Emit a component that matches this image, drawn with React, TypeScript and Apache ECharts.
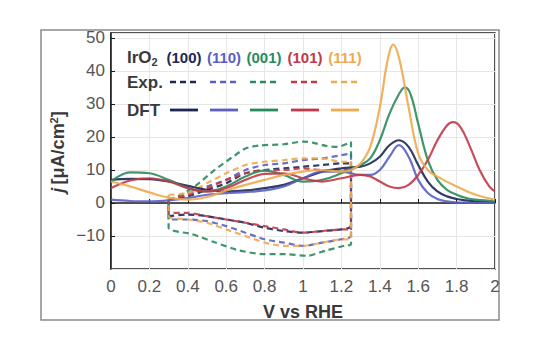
import React, { useEffect, useRef } from "react";
import * as echarts from "echarts";

// ---- Data ----
const xTicks = [0, 0.2, 0.4, 0.6, 0.8, 1, 1.2, 1.4, 1.6, 1.8, 2];
const yTicks = [-10, 0, 10, 20, 30, 40, 50];

const facets = ["(100)", "(110)", "(001)", "(101)", "(111)"];
const colors = ["#1c2756", "#5a5fc4", "#2b8a5c", "#c23a4a", "#eeaa4e"];

// DFT (solid) curves: [V, j]
const dft100 = [[0,7],[0.1,7.3],[0.2,7.2],[0.3,6.5],[0.4,5.2],[0.5,4],[0.6,3.5],[0.7,3.8],[0.8,4.5],[0.9,5.5],[1.0,7.5],[1.1,9.5],[1.2,10.5],[1.3,11],[1.35,12],[1.4,14],[1.45,17.5],[1.5,19],[1.55,17],[1.6,11.5],[1.65,6.5],[1.7,3.5],[1.75,2],[1.8,1.2],[1.85,0.8],[1.9,0.5],[2,0.3]];
const dft110 = [[0,1],[0.1,0.6],[0.2,0.5],[0.3,0.8],[0.4,1.5],[0.5,2.5],[0.6,3],[0.7,3.3],[0.8,3.8],[0.9,5],[1.0,7.5],[1.1,9.5],[1.2,9.5],[1.3,8.5],[1.35,8.5],[1.4,10],[1.45,14],[1.5,17.5],[1.55,14],[1.6,7],[1.65,3],[1.7,1.2],[1.75,0.5],[1.8,0.2],[1.85,0.1],[1.9,0],[2,0]];
const dft001 = [[0,6.5],[0.1,9.3],[0.2,9],[0.3,7],[0.4,4.5],[0.5,3.5],[0.6,5],[0.7,8],[0.8,9.8],[0.9,8.5],[1.0,6.5],[1.1,7],[1.2,9],[1.3,11.5],[1.35,13.5],[1.4,19],[1.45,27],[1.5,33],[1.53,35],[1.56,33],[1.6,24],[1.65,13],[1.7,7],[1.75,4],[1.8,2.5],[1.85,1.5],[1.9,1],[2,0.5]];
const dft101 = [[0,4.5],[0.1,6.8],[0.2,7.5],[0.3,6.5],[0.4,4.5],[0.5,3.5],[0.6,4.5],[0.7,7],[0.8,8.8],[0.9,9],[1.0,7.5],[1.1,6.5],[1.2,7.5],[1.3,8.5],[1.35,8],[1.4,6.5],[1.45,5],[1.5,4.5],[1.55,5.5],[1.6,8.5],[1.65,13],[1.7,19],[1.75,23.5],[1.78,24.5],[1.82,23],[1.87,17],[1.92,10],[1.97,5],[2,3.5]];
const dft111 = [[0,6.5],[0.1,5],[0.2,3.2],[0.3,1.6],[0.4,1],[0.5,1.8],[0.6,3.8],[0.7,5.5],[0.8,7],[0.9,8.5],[1.0,9.5],[1.1,10],[1.2,9.5],[1.25,10],[1.3,12],[1.35,17],[1.4,29],[1.44,43],[1.47,48],[1.5,44],[1.55,29],[1.6,15],[1.65,10],[1.7,8],[1.8,5],[1.9,2.5],[2,1]];

// Experimental CV loops (dashed): anodic branch (0.3 -> 1.25) and cathodic branch (1.25 -> 0.3)
const expUp100 = [[0.3,1],[0.4,2],[0.5,4],[0.6,6],[0.7,9],[0.8,10],[0.9,10.5],[1.0,11],[1.1,11.5],[1.2,12],[1.25,12]];
const expDown100 = [[1.25,-7],[1.2,-8],[1.1,-8.5],[1.0,-9],[0.9,-8.5],[0.8,-7.5],[0.7,-6],[0.6,-5],[0.5,-4],[0.4,-3.5],[0.3,-4]];
const expUp110 = [[0.3,1],[0.4,3],[0.5,5],[0.6,7],[0.7,10],[0.8,11.5],[0.9,12],[1.0,13],[1.1,13.5],[1.2,14.5],[1.25,15]];
const expDown110 = [[1.25,-10],[1.2,-11],[1.1,-12],[1.0,-13],[0.9,-12],[0.8,-11],[0.7,-9],[0.6,-7],[0.5,-5.5],[0.4,-5],[0.3,-5]];
const expUp001 = [[0.3,1],[0.35,2],[0.44,5.2],[0.54,10],[0.63,13.8],[0.7,16.5],[0.77,17.4],[0.9,17.8],[1.0,18.6],[1.05,18.3],[1.12,17.3],[1.18,17],[1.25,18.5]];
const expDown001 = [[1.25,-12.5],[1.22,-12.9],[1.12,-14.4],[1.02,-16],[0.91,-15.5],[0.8,-15.5],[0.67,-14.4],[0.54,-11.9],[0.42,-9.4],[0.3,-7.5]];
const expUp101 = [[0.3,1],[0.4,2.5],[0.5,4.5],[0.6,7],[0.7,9],[0.8,10],[0.9,10],[1.0,10.5],[1.1,10],[1.2,10],[1.25,10]];
const expDown101 = [[1.25,-8],[1.2,-8],[1.1,-8.5],[1.0,-9],[0.9,-8],[0.8,-7],[0.7,-6],[0.6,-5],[0.5,-4],[0.4,-3],[0.3,-3]];
const expUp111 = [[0.3,2.5],[0.4,3],[0.5,6],[0.6,9],[0.7,11.5],[0.8,12.5],[0.9,13],[1.0,13.5],[1.1,13.5],[1.2,12.5],[1.25,12.5]];
const expDown111 = [[1.25,-11],[1.2,-11],[1.1,-12],[1.0,-13],[0.9,-13],[0.8,-12],[0.7,-10],[0.6,-8],[0.5,-6],[0.4,-5],[0.3,-4]];

const dftData = [dft100, dft110, dft001, dft101, dft111];
const expUps = [expUp100, expUp110, expUp001, expUp101, expUp111];
const expDowns = [expDown100, expDown110, expDown001, expDown101, expDown111];

const FONT = "'Liberation Sans', Arial, sans-serif";

export default function App() {
  const ref = useRef<HTMLDivElement>(null);
  useEffect(() => {
    document.body.style.margin = "0";
    const chart = echarts.init(ref.current!, undefined, { renderer: "svg" });

    const series: any[] = [];
    facets.forEach((f, i) => {
      const loop = [...expUps[i], ...expDowns[i], expUps[i][0]];
      series.push({
        name: "Exp. " + f,
        type: "line",
        data: loop,
        smooth: 0.25,
        showSymbol: false,
        lineStyle: { color: colors[i], width: 2.2, type: [6, 4], opacity: 0.9 },
        z: 2,
      });
    });
    facets.forEach((f, i) => {
      series.push({
        name: "DFT " + f,
        type: "line",
        data: dftData[i],
        smooth: 0.4,
        showSymbol: false,
        lineStyle: { color: colors[i], width: 2.2, opacity: 0.9 },
        z: 3,
      });
    });

    const legendX = [184, 224, 264, 305, 345];
    const graphics: any[] = [
      {
        type: "rect",
        shape: { x: 41, y: 30, width: 458, height: 290 },
        style: { fill: "none", stroke: "#8a8a8a", lineWidth: 1.5 },
        z: 0,
      },
      {
        type: "text",
        x: 127, y: 57,
        style: {
          text: "{b|IrO}{s|2}",
          rich: {
            b: { fontSize: 17, fontWeight: "bold", fill: "#3a3a3a", fontFamily: FONT },
            s: { fontSize: 11, fontWeight: "bold", fill: "#3a3a3a", fontFamily: FONT, verticalAlign: "bottom", padding: [10, 0, 0, 0] },
          },
          verticalAlign: "middle",
        },
        z: 10,
      },
      { type: "text", x: 127, y: 82, style: { text: "Exp.", fontSize: 17, fontWeight: "bold", fill: "#3a3a3a", fontFamily: FONT, verticalAlign: "middle" }, z: 10 },
      { type: "text", x: 127, y: 110, style: { text: "DFT", fontSize: 17, fontWeight: "bold", fill: "#3a3a3a", fontFamily: FONT, verticalAlign: "middle" }, z: 10 },
    ];
    facets.forEach((f, i) => {
      const cx = legendX[i];
      graphics.push({
        type: "text", x: cx, y: 57,
        style: { text: f, fontSize: 15, fontWeight: "bold", fill: colors[i], fontFamily: FONT, align: "center", verticalAlign: "middle" },
        z: 10,
      });
      graphics.push({
        type: "line",
        shape: { x1: cx - 14, y1: 82, x2: cx + 14, y2: 82 },
        style: { stroke: colors[i], lineWidth: 2.5, lineDash: [6, 4] },
        z: 10,
      });
      graphics.push({
        type: "line",
        shape: { x1: cx - 14, y1: 110, x2: cx + 14, y2: 110 },
        style: { stroke: colors[i], lineWidth: 2.8 },
        z: 10,
      });
    });
    graphics.push({
      type: "text",
      x: 58, y: 152,
      rotation: Math.PI / 2,
      style: {
        text: "{i|j} {n|[μA/cm}{s|2}{n|]}",
        rich: {
          i: { fontSize: 18, fontStyle: "italic", fontWeight: "bold", fill: "#3a3a3a", fontFamily: FONT },
          n: { fontSize: 18, fontWeight: "bold", fill: "#3a3a3a", fontFamily: FONT },
          s: { fontSize: 11, fontWeight: "bold", fill: "#3a3a3a", fontFamily: FONT, verticalAlign: "top", padding: [0, 0, 8, 0] },
        },
        align: "center",
        verticalAlign: "middle",
      },
      z: 10,
    });
    graphics.push({
      type: "text",
      x: 303, y: 312,
      style: { text: "V vs RHE", fontSize: 18, fontWeight: "bold", fill: "#3a3a3a", fontFamily: FONT, align: "center", verticalAlign: "middle" },
      z: 10,
    });

    chart.setOption({
      animation: false,
      backgroundColor: "#fff",
      grid: {
        left: 111, right: 42, top: 33, bottom: 81,
        show: true, borderColor: "#1a1a1a", borderWidth: 1.5,
      },
      xAxis: {
        type: "value",
        min: xTicks[0], max: xTicks[xTicks.length - 1], interval: 0.2,
        axisLine: { show: true, lineStyle: { color: "#1a1a1a", width: 1.5 } },
        axisTick: { show: true, inside: true, length: 4, lineStyle: { color: "#1a1a1a" } },
        axisLabel: { color: "#555", fontSize: 17, fontFamily: FONT, margin: 9 },
        splitLine: { show: true, lineStyle: { color: "#e6e6e6", width: 1 } },
      },
      yAxis: {
        type: "value",
        min: -20, max: 51.5, interval: 10,
        axisLine: { show: true, lineStyle: { color: "#1a1a1a", width: 1.5 } },
        axisTick: { show: true, inside: true, length: 4, lineStyle: { color: "#1a1a1a" } },
        axisLabel: {
          color: "#555", fontSize: 17, fontFamily: FONT, margin: 6,
          showMinLabel: false, showMaxLabel: false,
          formatter: (v: number) => (yTicks.includes(v) ? (v < 0 ? "\u2212" + Math.abs(v) : String(v)) : ""),
        },
        splitLine: { show: true, lineStyle: { color: "#e6e6e6", width: 1 } },
      },
      graphic: graphics,
      series,
    });
    return () => chart.dispose();
  }, []);
  return (
    <div
      ref={ref}
      style={{ position: "absolute", left: 0, top: 0, width: 537, height: 350, background: "#fff" }}
    />
  );
}
